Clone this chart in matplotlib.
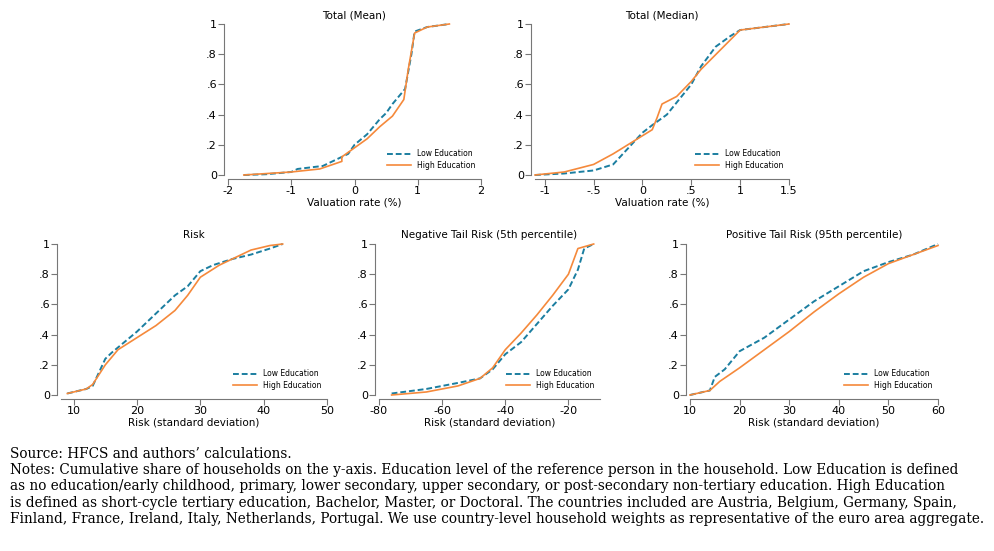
import matplotlib
matplotlib.use("Agg")
import matplotlib.pyplot as plt

titles = ["Total (Mean)", "Total (Median)", "Risk", "Negative Tail Risk (5th percentile)", "Positive Tail Risk (95th percentile)"]
xlabels = ["Valuation rate (%)", "Valuation rate (%)", "Risk (standard deviation)", "Risk (standard deviation)", "Risk (standard deviation)"]

mean_low_x = [-1.75,-1.4,-1.0,-0.9,-0.5,-0.3,-0.1,0,0.2,0.4,0.5,0.6,0.8,0.9,0.95,1.15,1.5]
mean_low_y = [0,0.005,0.02,0.04,0.06,0.1,0.14,0.2,0.27,0.37,0.41,0.47,0.57,0.8,0.95,0.98,1]
mean_high_x = [-1.75,-1.0,-0.55,-0.2,-0.2,0,0.2,0.4,0.6,0.78,0.85,0.95,1.15,1.5]
mean_high_y = [0,0.02,0.04,0.09,0.12,0.18,0.24,0.32,0.39,0.5,0.7,0.94,0.98,1]

med_low_x = [-1.1,-0.8,-0.5,-0.3,-0.2,0,0.1,0.25,0.4,0.5,0.6,0.75,0.9,1.0,1.5]
med_low_y = [0,0.01,0.03,0.07,0.14,0.28,0.33,0.4,0.52,0.6,0.72,0.85,0.92,0.96,1]
med_high_x = [-1.1,-0.8,-0.5,-0.3,-0.1,0.1,0.15,0.2,0.35,0.5,0.6,0.8,1.0,1.5]
med_high_y = [0,0.02,0.07,0.14,0.22,0.3,0.38,0.47,0.52,0.62,0.7,0.83,0.96,1]

risk_low_x = [9,12,13,14,15,16,18,20,22,24,26,28,30,32,35,38,41,43]
risk_low_y = [0.01,0.04,0.06,0.15,0.24,0.28,0.35,0.42,0.5,0.58,0.66,0.72,0.82,0.86,0.9,0.93,0.97,1]
risk_high_x = [9,12,13,15,17,20,23,26,28,30,33,36,38,41,43]
risk_high_y = [0.01,0.04,0.07,0.2,0.3,0.38,0.46,0.56,0.66,0.78,0.86,0.92,0.96,0.99,1]

neg_low_x = [-76,-65,-55,-48,-44,-40,-35,-30,-25,-20,-17,-15,-12]
neg_low_y = [0.01,0.04,0.08,0.11,0.17,0.27,0.35,0.47,0.59,0.7,0.83,0.97,1]
neg_high_x = [-76,-65,-55,-48,-44,-40,-35,-30,-25,-20,-17,-12]
neg_high_y = [0,0.02,0.06,0.11,0.18,0.3,0.41,0.53,0.66,0.8,0.97,1]

pos_low_x = [10,14,15,17,20,25,30,35,40,45,50,55,60]
pos_low_y = [0,0.03,0.12,0.17,0.29,0.38,0.5,0.62,0.72,0.82,0.88,0.93,1]
pos_high_x = [10,14,16,20,25,30,35,40,45,50,55,60]
pos_high_y = [0,0.03,0.09,0.18,0.3,0.42,0.55,0.67,0.78,0.87,0.93,0.99]

series = [(mean_low_x, mean_low_y, mean_high_x, mean_high_y),
          (med_low_x, med_low_y, med_high_x, med_high_y),
          (risk_low_x, risk_low_y, risk_high_x, risk_high_y),
          (neg_low_x, neg_low_y, neg_high_x, neg_high_y),
          (pos_low_x, pos_low_y, pos_high_x, pos_high_y)]
xticks = [[-2,-1,0,1,2],[-1,-0.5,0,0.5,1,1.5],[10,20,30,40,50],[-80,-60,-40,-20],[10,20,30,40,50,60]]
xticklabels = [["-2","-1","0","1","2"],["-1","-.5","0",".5","1","1.5"],["10","20","30","40","50"],["-80","-60","-40","-20"],["10","20","30","40","50","60"]]
xlims = [(-2,2),(-1.1,1.5),(8,50),(-80,-10),(10,60)]
yticks = [0,0.2,0.4,0.6,0.8,1]
yticklabels = ["0",".2",".4",".6",".8","1"]

W, H = 994, 551
fig = plt.figure(figsize=(W/100, H/100), dpi=100)
boxes = [(228,481,24,175),(535,789,24,175),(61,327,244,395),(379,600,244,395),(690,938,244,395)]
low_c = "#1b7ea0"; high_c = "#f5893b"; grey = "#777777"
for i, (l, r, t, b) in enumerate(boxes):
    ax = fig.add_axes([l/W, 1-b/H, (r-l)/W, (b-t)/H])
    lx, ly, hx, hy = series[i]
    ax.plot(lx, ly, color=low_c, ls=(0,(3,1.5)), lw=1.4, label="Low Education", clip_on=False)
    ax.plot(hx, hy, color=high_c, lw=1.2, label="High Education", clip_on=False)
    ax.set_xlim(*xlims[i]); ax.set_ylim(0,1)
    ax.set_xticks(xticks[i]); ax.set_xticklabels(xticklabels[i])
    ax.set_yticks(yticks); ax.set_yticklabels(yticklabels)
    for s in ["top","right"]:
        ax.spines[s].set_visible(False)
    for s in ["left","bottom"]:
        ax.spines[s].set_color(grey); ax.spines[s].set_position(("outward", 3))
    ax.tick_params(colors=grey, labelcolor="black", labelsize=8, length=4, pad=1)
    ax.set_title(titles[i], fontsize=7.5, pad=4)
    ax.set_xlabel(xlabels[i], fontsize=7.5, labelpad=1)
    ax.legend(loc="lower right", frameon=False, fontsize=5.5, handlelength=3.2, borderaxespad=0.3, labelspacing=0.3)

notes = ("Source: HFCS and authors\u2019 calculations.\n"
         "Notes: Cumulative share of households on the y-axis. Education level of the reference person in the household. Low Education is defined\n"
         "as no education/early childhood, primary, lower secondary, upper secondary, or post-secondary non-tertiary education. High Education\n"
         "is defined as short-cycle tertiary education, Bachelor, Master, or Doctoral. The countries included are Austria, Belgium, Germany, Spain,\n"
         "Finland, France, Ireland, Italy, Netherlands, Portugal. We use country-level household weights as representative of the euro area aggregate.")
fig.text(10/W, 1-447/H, notes, family="DejaVu Serif", fontsize=9.8, va="top", ha="left", linespacing=1.2)
fig.savefig("out.png", dpi=100)
